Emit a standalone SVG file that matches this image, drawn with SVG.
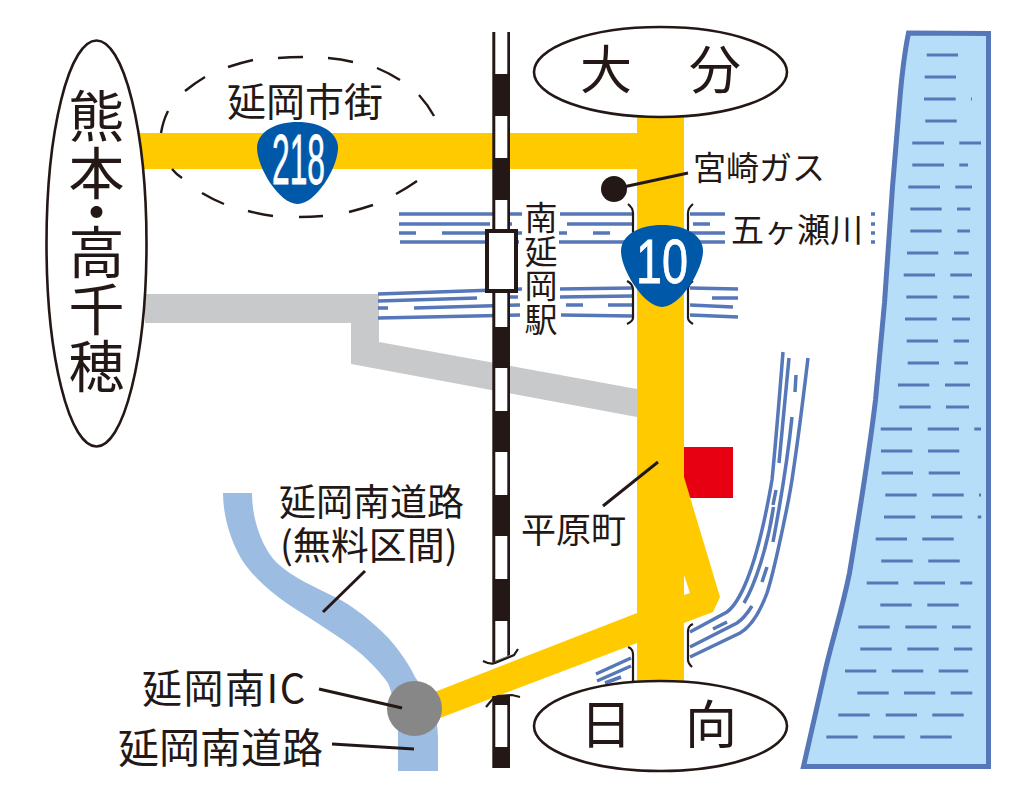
<svg xmlns="http://www.w3.org/2000/svg" width="1009" height="797" viewBox="0 0 1009 797">
<style>
text{font-family:"Noto Sans CJK JP","Liberation Sans",sans-serif;fill:#231815}
.riv{fill:none;stroke:#5677b8;stroke-width:3.5}
.wav{fill:none;stroke:#5677b8;stroke-width:3}
.blk{fill:none;stroke:#231815;stroke-width:2.2}
.lead{fill:none;stroke:#231815;stroke-width:3}
.city{fill:#fff;stroke:#231815;stroke-width:2.6}
.dash{fill:none;stroke:#231815;stroke-width:2.4}
.y{fill:#ffca00}
.g{fill:#c8c9ca}
.num{font-family:"Liberation Sans",Arial,sans-serif;fill:#fff;stroke:#fff;stroke-width:0.8}
.shield{fill:#0059a8}
.v{writing-mode:vertical-rl}
</style>
<rect width="1009" height="797" fill="#fff"/>

<g id="sea">
<path d="M908.5,33 Q903,60 899.5,103 L892.5,187 L884.5,303 L875.5,400 C869,455 860,510 849.5,573 C842,610 835,630 826,667 L803.5,766.5 L988.5,766.5 L988.5,33.5 Z" fill="#b7def8" stroke="#5677b8" stroke-width="5"/>
<path class="wav" d="M926.7,55H958M924.7,77H956M924,99H955.7M971,99H972M925.3,121H956.7M912.3,143H944M959.3,143H981M912.3,165H944M959.3,165H968M908.3,187H940M955.3,187H972M910.3,209H941.7M957,209H970.3M910.3,231H941.7M957.3,231H970M907,253H938.3M954,253H968.7M903.7,275H935M950.3,275H972M906.3,297H937.3M953.3,297H969.3M905,319H936.7M952,319H970M906.7,341H938M953.7,341H969M907.7,363H939M954.3,363H968M898,385H929.3M945,385H970M899.3,407H930.7M946,407H969M880.7,429H912M927.7,429H959M974.3,429H981M881,451H912.3M928,451H959.3M881.7,473H913M928.7,473H960M885.3,495H916.7M932.3,495H963.7M979,495H981M884,517H915.3M931,517H962.3M977.7,517H981.3M875.7,539H907M922.3,539H953.7M881.3,561H912.7M928.3,561H959.7M866.7,583H898.3M913.7,583H945M960.3,583H972.3M880.3,605H911.7M927.3,605H958.7M858.3,627H889.7M905.3,627H936.7M952,627H970.7M860.3,649H891.7M907.3,649H938.7M954,649H972.3M845,671H876.3M891.7,671H923.3M938.7,671H968.3M857.3,693H888.7M904,693H935.3M950.7,693H972.3M838.3,715H869.7M885.7,715H917M932.3,715H963.7M826.3,737H857.7M873.3,737H904.7M920.3,737H951.7"/>
</g>

<g id="connectors">
<g id="gray-road"><path class="g" d="M145,294H379V342L637,389V417L351,364V323H145Z"/></g>
<g id="expressway"><path fill="#9dbce2" d="M223,493H252C252,520 262,548 277,563C293,578 315,587 337,598C352,606 365,616 377,627C393,641 407,660 415,677C428,695 438,715 438,737V771H398V733C397,713 394,698 388,683C376,667 362,653 343,640C328,630 313,620 297,610C278,598 255,580 242,560C230,540 223,515 223,493Z"/></g>
<rect id="destination-mark" x="684" y="447" width="49" height="51" fill="#e60012"/>

<g id="rivers">
<path class="riv" d="M399,214H522M560,214H632M399,224H490M507,224H512M567,224H632M399,233H416M442,233H490M507,233H522M559,233H567M593,233H610M400,242H490M507,242H519M559,242H632M690,214H725M693,224H710M690,233H725M690,242H725"/>
<path class="riv" d="M871,214H875M871,224H875M871,233H875M871,242H875"/>
<path class="riv" d="M378,294L522,289M560,289L632,288M690,288L738,289M378,301L477,298M507,297H518M560,297L632,296M712,298H738M378,308H388M414,308L520,305M566,305H583M608,305H632M690,305L733,307M378,318L520,315M561,315L632,316M690,315L738,317"/>
<path class="riv" d="M783,352C780,390 776,440 772,480C766,515 757,555 747,580C741,595 735,606 727,612L690,632"/>
<path class="riv" d="M789,358L779,463M776,490L773,505M773.5,507C768,545 755,585 744,603M727,622L713,629"/>
<path class="riv" d="M796,375L795,392M792,417C788,455 780,505 773,542M767,567L762,582M752,606C747,614 743,619 737,623L690,647"/>
<path class="riv" d="M808,358C803,400 798,440 793,473C790,495 786,512 783,527C778,550 773,575 767,593C760,612 750,627 740,633L690,657"/>
<path class="riv" d="M631,658L596,674M631,666L597,681M621,677L605,683"/>
<path class="blk" d="M628,204Q633,208 633,213V235M693,204Q688,208 688,213V235M627,281Q633,284 633,290V318Q633,321 627,324M693,281Q688,284 688,290V318Q688,321 693,324M628,647Q633,649 633,654V682M693,624Q688,626 688,631V660Q688,663 692,667"/>
</g>

<g id="national-roads">
<path class="y" d="M140,133H637V117H684V682H637V643L440,718L432,693L637,613V169H140Z"/>
<path class="y" d="M684,477L720,597L713,612L684,623Z"/>
<path fill="#fff" d="M684,575L690,593L684,595Z"/>
</g>

<g id="railway">
<path fill="#231815" d="M492.3,32H510V655L492.3,663Z"/>
<path fill="#fff" d="M495.3,32H507.3V74H495.3ZM495.3,116H507.3V158H495.3ZM495.3,200H507.3V327H495.3ZM495.3,368H507.3V411H495.3ZM495.3,452H507.3V495H495.3ZM495.3,536H507.3V579H495.3ZM495.3,621H507.3V656L495.3,661Z"/>
<path fill="#231815" d="M492.3,696H510V768H492.3Z"/>
<path fill="#fff" d="M495.3,705H507.3V747H495.3Z"/>
<path class="blk" d="M483,661Q491,665 495,663L514,655L518,649M486,707L491,701Q494,697 498,696L512,695L520,697"/>
</g>

<g id="leaders">
<path class="lead" d="M365,571L323,612M603,506L658,462M614,189L688,173"/>
</g>
</g>

<g id="dashed-area">
<path class="dash" d="M168,111Q163,121 161,133M172,169Q176,174 182,178M202,193Q212,199 224,204M248,211Q260,214 273,216M299,217Q311,217 323,216M349,212Q361,209 373,205M396,194Q407,188 417,181M434,116Q428,105 419,95M400,80Q389,73 377,68M353,62Q341,59 328,58M253,60Q240,63 228,67M205,77Q195,83 185,91M278,58Q290,57 303,57"/>
<text x="227" y="115.500" font-size="39">延岡市街</text>
</g>

<g id="route-218">
<path class="shield" d="M297.500,122C320,122 338,132 338,148C338,167 316,204 297.500,204C279,204 257,167 257,148C257,132 275,122 297.500,122Z"/>
<text class="num" x="272" y="184" font-size="71" textLength="53" lengthAdjust="spacingAndGlyphs">218</text>
</g>

<g id="route-10">
<path class="shield" d="M662,225C685,225 703,235 703,251C703,270 680,307 662,307C644,307 621,270 621,251C621,235 639,225 662,225Z"/>
<text class="num" x="636" y="283" font-size="63" textLength="52" lengthAdjust="spacingAndGlyphs">10</text>
</g>

<g id="station">
<rect x="487" y="231" width="29" height="60" fill="#fff" stroke="#231815" stroke-width="4"/>
<text class="v" x="541" y="201" font-size="33" letter-spacing="1">南延岡駅</text>
</g>

<g id="city-kumamoto">
<ellipse class="city" cx="96.500" cy="243.500" rx="50" ry="203"/>
<text class="v" x="96.500" y="88" font-size="56" letter-spacing="1">熊本<tspan dy="-18">・</tspan><tspan dy="-17">高</tspan>千穂</text>
</g>
<g id="city-oita">
<ellipse class="city" cx="660.500" cy="72" rx="126.500" ry="45"/>
<text x="580" y="89" font-size="52" letter-spacing="2.500">大　分</text>
</g>
<g id="city-hyuga">
<ellipse class="city" cx="660.500" cy="726" rx="126.500" ry="45"/>
<text x="580" y="744" font-size="52" letter-spacing="0.500">日　向</text>
</g>

<g id="dot-gas"><circle cx="614" cy="189" r="13" fill="#231815"/><text x="693" y="180" font-size="33">宮崎ガス</text></g>
<g id="label-river"><text x="731" y="242" font-size="33">五ヶ瀬川</text></g>
<g id="label-hirabaru"><text x="521" y="543" font-size="35">平原町</text></g>
<g id="label-free"><text x="279" y="516" font-size="37">延岡南道路</text><text x="280" y="559" font-size="38">(無料区間)</text></g>
<g id="ic"><circle cx="414.500" cy="708.500" r="27.500" fill="#878787"/><path class="lead" d="M319,689L402,708"/><text x="142" y="703" font-size="40" letter-spacing="1.500">延岡南IC</text></g>
<g id="label-road"><path class="lead" d="M332,744L414,749"/><text x="118" y="763" font-size="41">延岡南道路</text></g>
</svg>
